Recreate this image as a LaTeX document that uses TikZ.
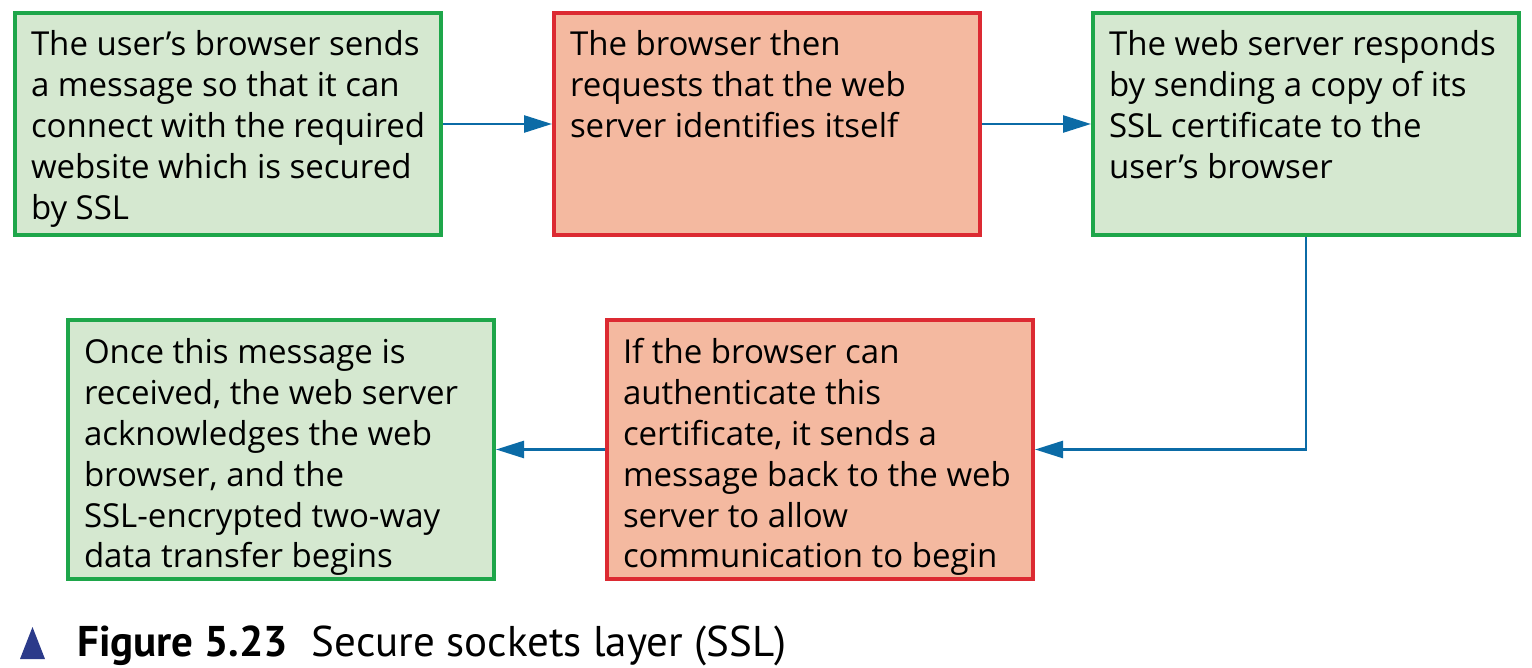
\documentclass[tikz,border=0pt]{standalone}
\usepackage{fontspec}
\setmainfont{Open Sans}
\newfontfamily\capfont{PT Sans}
\usetikzlibrary{arrows.meta}
\definecolor{gborder}{HTML}{1EA64A}
\definecolor{gfill}{HTML}{D5E8D0}
\definecolor{rborder}{HTML}{DC2A32}
\definecolor{rfill}{HTML}{F4B9A0}
\definecolor{arrowc}{HTML}{0B6BA6}
\definecolor{navy}{HTML}{2B3A8A}
\newcommand\boxtxt[2]{\parbox[c][#1][t]{394pt}{\vspace*{14.3pt}\strut #2}}
\begin{document}
\begin{tikzpicture}[x=1pt,y=-1pt,
  box/.style={line width=4pt, anchor=north west, inner xsep=16pt, inner ysep=0pt,
    font=\fontsize{33}{41}\selectfont, align=left},
  gbox/.style={box, draw=gborder, fill=gfill},
  rbox/.style={box, draw=rborder, fill=rfill},
  conn/.style={draw=arrowc, line width=2.6pt, -{Triangle[length=28pt,width=17pt]}}]
\useasboundingbox (0,0) rectangle (1532,668);
\node[gbox] (a) at (13,11) {\boxtxt{222pt}{The user’s browser sends\\a message so that it can\\connect with the required\\website which is secured\\by SSL}};
\node[rbox] (b) at (552,11) {\boxtxt{222pt}{The browser then\\requests that the web\\server identifies itself}};
\node[gbox] (c) at (1091,11) {\boxtxt{222pt}{The web server responds\\by sending a copy of its\\SSL certificate to the\\user’s browser}};
\node[rbox] (d) at (605,318) {\boxtxt{259pt}{If the browser can\\authenticate this\\certificate, it sends a\\message back to the web\\server to allow\\communication to begin}};
\node[gbox] (e) at (66,318) {\boxtxt{259pt}{Once this message is\\received, the web server\\acknowledges the web\\browser, and the\\SSL-encrypted two-way\\data transfer begins}};
\draw[conn] (a.east) -- (b.west);
\draw[conn] (b.east) -- (c.west);
\draw[conn] (c.south) |- (d.east);
\draw[conn] (d.west) -- (e.east);
\fill[navy] (20,659) -- (45,659) -- (32.5,627) -- cycle;
\node[anchor=base west, inner sep=0pt, font=\capfont\fontsize{43}{50}\selectfont] (cap) at (77,656)
  {\textbf{Figure 5.23}\hspace{0.55em}Secure sockets layer (SSL)};
\end{tikzpicture}
\end{document}
